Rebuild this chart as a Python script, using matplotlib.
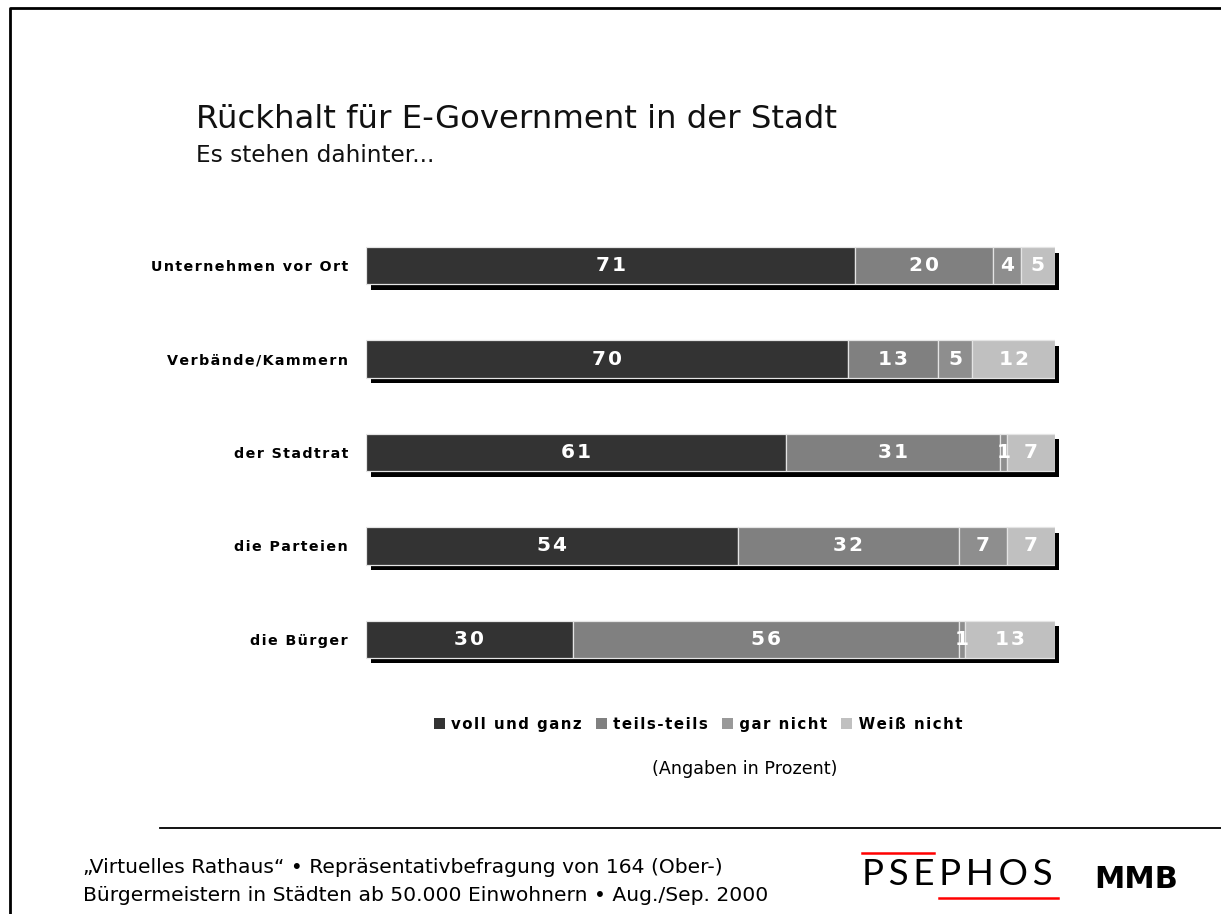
import matplotlib
matplotlib.use("Agg")
import matplotlib.pyplot as plt
from matplotlib.lines import Line2D
from matplotlib.patches import Rectangle
from matplotlib.transforms import ScaledTranslation

# --- data -----------------------------------------------------------------
categories = ["Unternehmen vor Ort", "Verbände/Kammern", "der Stadtrat",
              "die Parteien", "die Bürger"]
series_names = ["voll und ganz", "teils-teils", "gar nicht", "Weiß nicht"]
voll_und_ganz = [71, 70, 61, 54, 30]
teils_teils = [20, 13, 31, 32, 56]
gar_nicht = [4, 5, 1, 7, 1]
weiss_nicht = [5, 12, 7, 7, 13]

title = "Rückhalt für E-Government in der Stadt"
subtitle = "Es stehen dahinter..."
unit_note = "(Angaben in Prozent)"
footer_lines = ["\u201eVirtuelles Rathaus\u201c \u2022 Repräsentativbefragung von 164 (Ober-)",
                "Bürgermeistern in Städten ab 50.000 Einwohnern \u2022 Aug./Sep. 2000"]

colors = ["#333333", "#808080", "#8e8e8e", "#c0c0c0"]
legend_colors = ["#333333", "#808080", "#999999", "#c0c0c0"]

W, H = 1221, 914
plt.rcParams["font.family"] = ["DejaVu Sans"]


def fx(x):
    return x / W


def fy(y):
    return 1 - y / H


def spaced(s, sep="\u200a"):
    # widen the tracking
    return sep.join(s)


fig = plt.figure(figsize=(W / 100, H / 100), dpi=100)
fig.patch.set_facecolor("white")
renderer = fig.canvas.get_renderer()

# --- bar panel --------------------------------------------------------------
top_px, bottom_px = 219.0, 686.0
ax = fig.add_axes([fx(366), fy(bottom_px), 689 / W, (bottom_px - top_px) / H])
ax.set_xlim(0, 100)
ax.set_ylim(4.5, -0.5)
for sp in ax.spines.values():
    sp.set_visible(False)
ax.set_xticks([])

ypos = list(range(len(categories)))
series = [voll_und_ganz, teils_teils, gar_nicht, weiss_nicht]
totals = [sum(v) for v in zip(*series)]
bar_h = 0.40

# drop shadow behind every bar
shadow = ax.transData + ScaledTranslation(0.045, -0.055, fig.dpi_scale_trans)
ax.barh(ypos, totals, height=bar_h, left=0, color="black", transform=shadow,
        zorder=1, clip_on=False)

lefts = [0] * len(categories)
for vals, col in zip(series, colors):
    bc = ax.barh(ypos, vals, height=bar_h, left=lefts, color=col,
                 edgecolor="#e4e4e4", linewidth=0.9, zorder=2)
    ax.bar_label(bc, labels=[spaced(str(v)) for v in vals], label_type="center",
                 color="white", fontweight="bold", fontsize=14.5, zorder=3)
    lefts = [l + v for l, v in zip(lefts, vals)]

ax.set_yticks(ypos)
ax.set_yticklabels([spaced(c) for c in categories], fontweight="bold",
                   fontsize=10.3)
ax.tick_params(axis="y", length=0, pad=13)

# --- legend: one text line, colour squares placed in the gaps ---------------
leg_size = 10.8
sq, sq_gap = 11, 6
leg_base = 728.5
leg_center = 698
slot = " " * 6
leg_labels = [spaced(n) for n in series_names]
leg_string = slot.join(leg_labels)


def text_width(s):
    t = fig.text(0, 0, s, fontsize=leg_size, fontweight="bold")
    w = t.get_window_extent(renderer).width
    t.remove()
    return w


full_w = text_width(leg_string)
leg_left = leg_center - (full_w + sq + sq_gap) / 2 + sq + sq_gap
fig.text(fx(leg_left), fy(leg_base), leg_string, fontsize=leg_size,
         fontweight="bold", ha="left", va="baseline")
for k, c in enumerate(legend_colors):
    if k == 0:
        start = 0.0
    else:
        head = slot.join(leg_labels[:k]) + slot + leg_labels[k]
        start = text_width(head) - text_width(leg_labels[k])
    x0 = leg_left + start - sq_gap - sq
    fig.add_artist(Rectangle((fx(x0), fy(leg_base)), sq / W, sq / H,
                             facecolor=c, edgecolor="none",
                             transform=fig.transFigure))

fig.text(fx(745), fy(769), unit_note, ha="center", va="center", fontsize=12.6)

# --- titles -----------------------------------------------------------------
fig.text(fx(196), fy(128), title, ha="left", va="baseline", fontsize=23.3,
         color="#111111")
fig.text(fx(196), fy(162), subtitle, ha="left", va="baseline", fontsize=16.7,
         color="#111111")

# --- frame and footer -------------------------------------------------------
fig.add_artist(Line2D([fx(10), fx(10), fx(1221)], [fy(914), fy(8), fy(8)],
                      color="black", linewidth=2, transform=fig.transFigure))
fig.add_artist(Line2D([fx(160), fx(1221)], [fy(828), fy(828)],
                      color="black", linewidth=1.3, transform=fig.transFigure))

fig.text(fx(83), fy(873), footer_lines[0], ha="left", va="baseline",
         fontsize=14.6)
fig.text(fx(83), fy(901), footer_lines[1], ha="left", va="baseline",
         fontsize=14.6)

fig.text(fx(862), fy(885), spaced("PSEPHOS", "\u2009"), ha="left",
         va="baseline", fontsize=26.5, family=["Lato", "DejaVu Sans"],
         color="black")
fig.add_artist(Line2D([fx(862), fx(934)], [fy(853), fy(853)], color="#ff0000",
                      linewidth=1.8, transform=fig.transFigure))
fig.add_artist(Line2D([fx(939), fx(1058)], [fy(898), fy(898)], color="#ff0000",
                      linewidth=1.8, transform=fig.transFigure))
fig.text(fx(1136), fy(879), "MMB", ha="center", va="center", fontsize=22,
         fontweight="heavy")

fig.savefig("out.png", dpi=100, facecolor="white")
